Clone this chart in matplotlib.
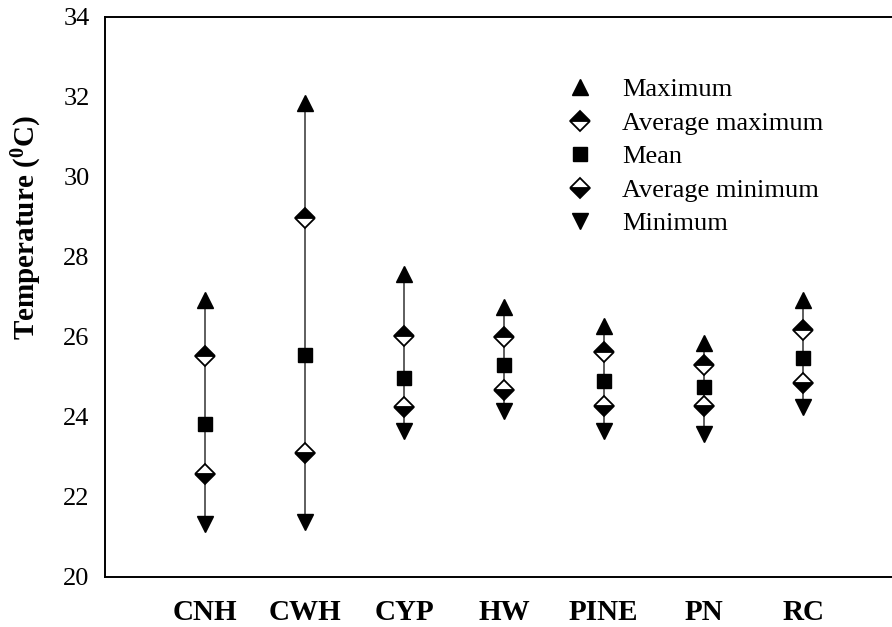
import numpy as np
import matplotlib
matplotlib.use("Agg")
import matplotlib.pyplot as plt

plt.rcParams['font.family'] = ['Liberation Serif', 'DejaVu Serif']
plt.rcParams['mathtext.fontset'] = 'custom'
plt.rcParams['mathtext.rm'] = 'Liberation Serif'
plt.rcParams['mathtext.bf'] = 'Liberation Serif:bold'

sites = ['CNH', 'CWH', 'CYP', 'HW', 'PINE', 'PN', 'RC']
t_max = [26.93, 31.85, 27.57, 26.76, 26.28, 25.84, 26.93]
t_avg_max = [25.52, 28.97, 26.03, 25.99, 25.62, 25.30, 26.18]
t_mean = [23.82, 25.55, 24.97, 25.30, 24.90, 24.76, 25.48]
t_avg_min = [22.57, 23.09, 24.26, 24.68, 24.28, 24.28, 24.86]
t_min = [21.32, 21.38, 23.65, 24.15, 23.65, 23.58, 24.24]

x = np.arange(1, len(sites) + 1)

fig = plt.figure(figsize=(8.92, 6.27), dpi=100)
ax = fig.add_axes([105 / 892, 50 / 627, 798 / 892, 560 / 627])

# range lines from minimum to maximum
ax.vlines(x, t_min, t_max, color='#333333', lw=1.1, zorder=1)

ax.plot(x, t_max, ls='none', marker='^', ms=11, color='black', label='Maximum', zorder=3)
ax.plot(x, t_avg_max, ls='none', marker='D', ms=10.5, color='black', mfc='black',
        mfcalt='white', fillstyle='top', mew=1.3, label='Average maximum', zorder=3)
ax.plot(x, t_mean, ls='none', marker='s', ms=9.5, color='black', label='Mean', zorder=3)
ax.plot(x, t_avg_min, ls='none', marker='D', ms=10.5, color='black', mfc='black',
        mfcalt='white', fillstyle='bottom', mew=1.3, label='Average minimum', zorder=3)
ax.plot(x, t_min, ls='none', marker='v', ms=11, color='black', label='Minimum', zorder=3)

ax.set_xlim(0, 8)
ax.set_ylim(20, 34)
ax.set_yticks(np.arange(20, 35, 2))
ax.set_xticks(x)
ax.set_xticklabels(sites, fontsize=21, fontweight='bold')
ax.tick_params(axis='y', length=0, pad=11, labelsize=19)
ax.tick_params(axis='x', length=0, pad=16)

for s in ['left', 'top', 'bottom', 'right']:
    ax.spines[s].set_linewidth(1.4)

ax.set_ylabel(r'Temperature ($\mathbf{^0}$C)', fontsize=21, fontweight='bold')
ax.yaxis.set_label_coords(-0.076, 0.623)

ax.legend(loc='upper left', bbox_to_anchor=(0.565, 0.91), frameon=False, fontsize=19,
          handlelength=1.0, handletextpad=1.1, labelspacing=0.38, borderaxespad=0)

fig.savefig('out.png', dpi=100)
